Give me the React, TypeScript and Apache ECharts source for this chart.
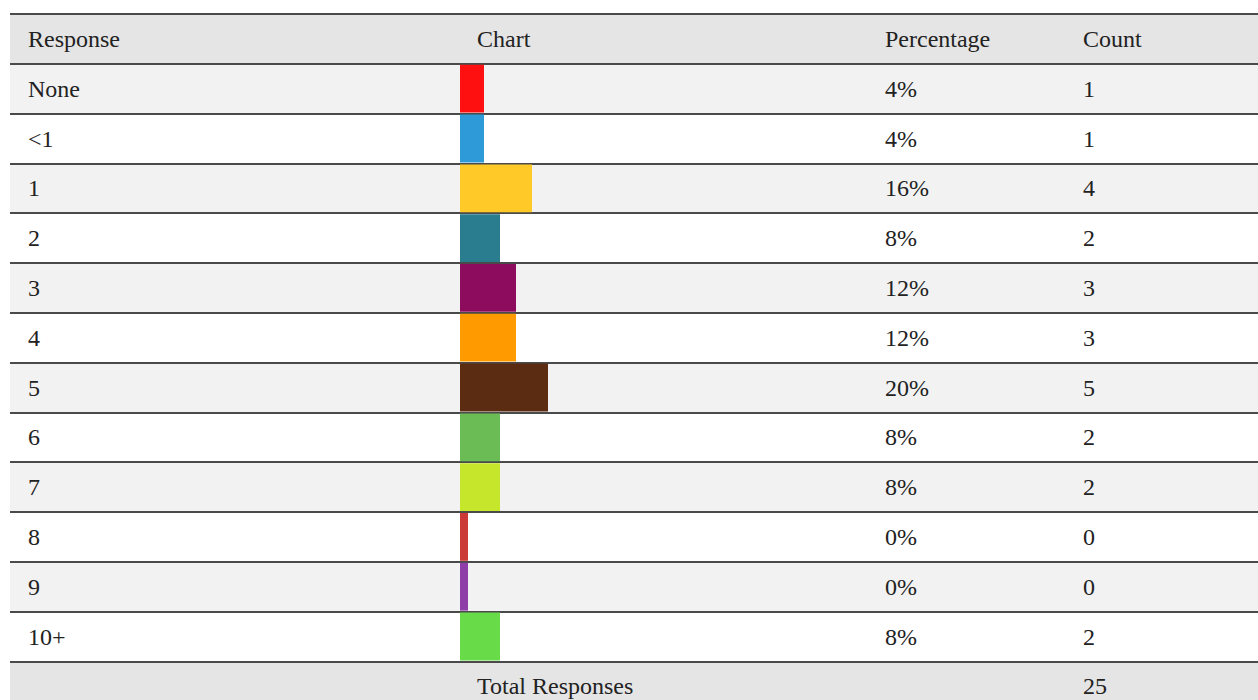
import React, { useEffect, useRef } from "react";
import * as echarts from "echarts";

const responses = ["None", "<1", "1", "2", "3", "4", "5", "6", "7", "8", "9", "10+"];
const percentages = [4, 4, 16, 8, 12, 12, 20, 8, 8, 0, 0, 8];
const percentLabels = ["4%", "4%", "16%", "8%", "12%", "12%", "20%", "8%", "8%", "0%", "0%", "8%"];
const counts = [1, 1, 4, 2, 3, 3, 5, 2, 2, 0, 0, 2];
const totalResponses = 25;
const headers = ["Response", "Chart", "Percentage", "Count"];
const totalLabel = "Total Responses";
const barColors = [
  "#ff1010", "#2f9ad8", "#ffc928", "#2a7d8f", "#8e0c5e", "#ff9a00",
  "#5b2c12", "#6cbc55", "#c6e62c", "#cc3a36", "#8e3ea8", "#67dc48",
];

const tableRows = ["__header__", ...responses, "__total__"];
const rowBg = [
  "#e5e5e5",
  ...responses.map((_, i) => (i % 2 === 0 ? "#f2f2f2" : "#ffffff")),
  "#e5e5e5",
];

const ROW_H = 49.8;
const TOP = 14;

export default function App() {
  const ref = useRef<HTMLDivElement>(null);
  useEffect(() => {
    if (!ref.current) return;
    const chart = echarts.init(ref.current, null, { renderer: "svg" });
    const font = "'Liberation Serif', 'Times New Roman', serif";
    const base = { fontSize: 24, fontFamily: font, color: "#222", align: "left" };
    const rich = {
      a: { ...base, width: 449 },
      b: { ...base, width: 408 },
      c: { ...base, width: 198 },
      d: { ...base, width: 150 },
    };
    chart.setOption({
      animation: false,
      backgroundColor: "#ffffff",
      grid: [
        { left: 460, width: 200, top: TOP + ROW_H, height: ROW_H * 12 },
        { left: 10, right: 0, top: TOP, height: ROW_H * 14 },
      ],
      xAxis: [
        { type: "value", gridIndex: 0, min: -2, max: 48, show: false },
        { type: "value", gridIndex: 1, min: 0, max: 1, show: false },
      ],
      yAxis: [
        {
          type: "category",
          gridIndex: 0,
          data: responses,
          inverse: true,
          show: false,
        },
        {
          type: "category",
          gridIndex: 1,
          data: tableRows,
          inverse: true,
          axisLine: { show: false },
          axisTick: { show: false },
          splitLine: { show: true, interval: 0, lineStyle: { color: "#4a4a4a", width: 2 } },
          splitArea: { show: true, interval: 0, areaStyle: { color: rowBg } },
          axisLabel: {
            inside: true,
            margin: 18,
            interval: 0,
            align: "left",
            formatter: (_v: string, idx: number) => {
              if (idx === 0) {
                return `{a|${headers[0]}}{b|${headers[1]}}{c|${headers[2]}}{d|${headers[3]}}`;
              }
              if (idx === tableRows.length - 1) {
                return `{a| }{b|${totalLabel}}{c| }{d|${totalResponses}}`;
              }
              const i = idx - 1;
              return `{a|${responses[i]}}{b| }{c|${percentLabels[i]}}{d|${counts[i]}}`;
            },
            rich,
          },
        },
      ],
      series: [
        {
          type: "custom",
          xAxisIndex: 0,
          yAxisIndex: 0,
          z: 5,
          data: percentages.map((p, i) => [p, i]),
          renderItem: (params: any, api: any) => {
            const idx = api.value(1);
            const start = api.coord([-2, idx]);
            const end = api.coord([api.value(0), idx]);
            const h = api.size([0, 1])[1];
            return {
              type: "rect",
              shape: { x: start[0], y: start[1] - h / 2 + 1, width: end[0] - start[0], height: h - 2 },
              style: { fill: barColors[params.dataIndex] },
            };
          },
        },
      ],
    });
    return () => chart.dispose();
  }, []);
  return (
    <div
      ref={ref}
      style={{ position: "fixed", left: 0, top: 0, width: 1258, height: 720, background: "#fff" }}
    />
  );
}
